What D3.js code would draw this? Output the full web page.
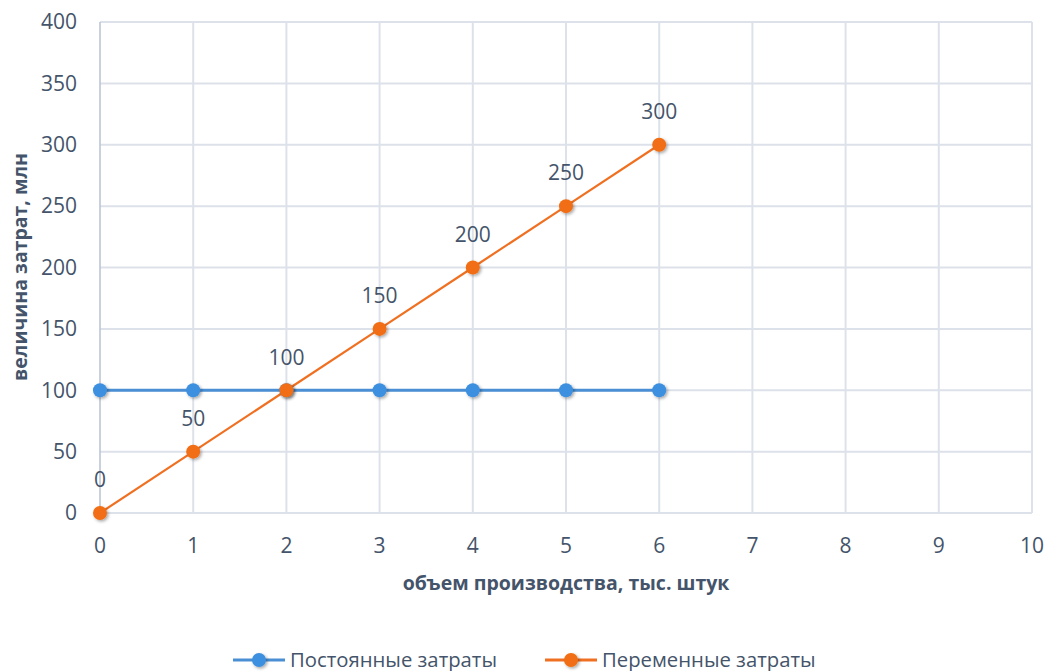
<!DOCTYPE html>
<html><head><meta charset="utf-8">
<script src="https://cdn.jsdelivr.net/npm/d3@7"></script>
<style>body{margin:0;background:#fff}svg{display:block}text{font-family:"Open Sans",sans-serif;fill:#44546a}</style>
</head><body><svg id="c" width="1046" height="671"></svg>
<script>
const xValues = [0,1,2,3,4,5,6];
const fixedCosts = [100,100,100,100,100,100,100];
const variableCosts = [0,50,100,150,200,250,300];
const xTicks = [0,1,2,3,4,5,6,7,8,9,10];
const yTicks = [0,50,100,150,200,250,300,350,400];
const seriesNames = ["Постоянные затраты","Переменные затраты"];
const colors = ["#4a8fd4","#f07022"];
const markerColors = ["#3d8fe0","#f26e12"];

const svg = d3.select("#c");
const defs = svg.append("defs");
const f = defs.append("filter").attr("id","sh").attr("x","-50%").attr("y","-50%").attr("width","200%").attr("height","200%");
f.append("feDropShadow").attr("dx",1.5).attr("dy",1.5).attr("stdDeviation",1.5).attr("flood-color","#000").attr("flood-opacity",0.35);

const x = d3.scaleLinear().domain([0,10]).range([100,1032]);
const y = d3.scaleLinear().domain([0,400]).range([513,22]);

svg.append("g").selectAll("line").data(yTicks.slice(1)).join("line")
  .attr("x1",x(0)).attr("x2",x(10)).attr("y1",d=>y(d)).attr("y2",d=>y(d))
  .attr("stroke","#dde2ea").attr("stroke-width",2);
svg.append("g").selectAll("line").data(xTicks.slice(1)).join("line")
  .attr("x1",d=>x(d)).attr("x2",d=>x(d)).attr("y1",y(0)).attr("y2",y(400))
  .attr("stroke","#dde2ea").attr("stroke-width",2);
svg.append("line").attr("x1",x(0)).attr("x2",x(10)).attr("y1",y(0)).attr("y2",y(0)).attr("stroke","#dde2ea").attr("stroke-width",2);
svg.append("line").attr("x1",x(0)).attr("x2",x(0)).attr("y1",y(0)).attr("y2",y(400)).attr("stroke","#b7c2d2").attr("stroke-width",1.5);

svg.append("g").selectAll("text").data(yTicks).join("text")
  .attr("x",77).attr("y",d=>y(d)).attr("dy","0.35em").attr("text-anchor","end")
  .attr("font-size",21).text(d=>d);
svg.append("g").selectAll("text").data(xTicks).join("text")
  .attr("x",d=>x(d)).attr("y",546).attr("dy","0.35em").attr("text-anchor","middle")
  .attr("font-size",21).text(d=>d);

svg.append("text").attr("x",566).attr("y",583).attr("dy","0.35em").attr("text-anchor","middle")
  .attr("font-size",19.5).attr("font-weight","bold").text("объем производства, тыс. штук");
svg.append("text").attr("transform","translate(20,267) rotate(-90)").attr("dy","0.35em").attr("text-anchor","middle")
  .attr("font-size",19.5).attr("font-weight","bold").text("величина затрат,  млн");

const line = d3.line().x(d=>x(d[0])).y(d=>y(d[1]));
const series = [fixedCosts, variableCosts];
series.forEach((vals,i)=>{
  const pts = xValues.map((xv,j)=>[xv,vals[j]]);
  svg.append("path").datum(pts).attr("d",line).attr("fill","none")
    .attr("stroke",colors[i]).attr("stroke-width",i===0?3:2.2);
});
series.forEach((vals,i)=>{
  const pts = xValues.map((xv,j)=>[xv,vals[j]]);
  svg.append("g").selectAll("circle").data(pts).join("circle")
    .attr("cx",d=>x(d[0])).attr("cy",d=>y(d[1])).attr("r",7)
    .attr("fill",markerColors[i]).attr("filter","url(#sh)");
});
svg.append("g").selectAll("text").data(xValues.map((xv,j)=>[xv,variableCosts[j]])).join("text")
  .attr("x",d=>x(d[0])).attr("y",d=>y(d[1])-33).attr("dy","0.35em").attr("text-anchor","middle")
  .attr("font-size",21).text(d=>d[1]);

const leg = [{x:233,tx:290},{x:545,tx:602}];
leg.forEach((l,i)=>{
  svg.append("line").attr("x1",l.x).attr("x2",l.x+52).attr("y1",660).attr("y2",660).attr("stroke",colors[i]).attr("stroke-width",3);
  svg.append("circle").attr("cx",l.x+26).attr("cy",660).attr("r",7).attr("fill",markerColors[i]).attr("filter","url(#sh)");
  svg.append("text").attr("x",l.tx).attr("y",660).attr("dy","0.35em").attr("font-size",20.3).text(seriesNames[i]);
});
</script></body></html>
